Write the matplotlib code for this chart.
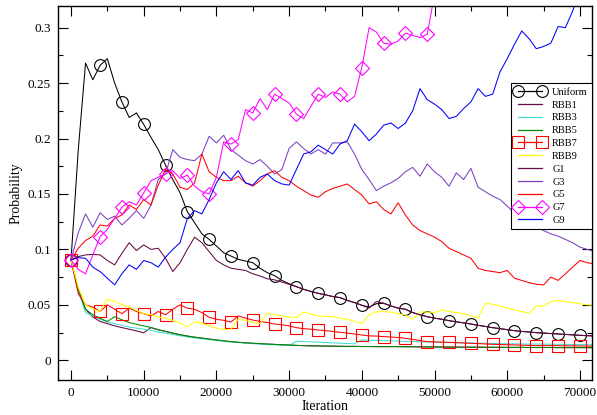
import numpy as np
import matplotlib
matplotlib.use('Agg')
import matplotlib.pyplot as plt
from matplotlib.lines import Line2D
from matplotlib.ticker import MultipleLocator, FuncFormatter

plt.rcParams['font.family'] = 'Liberation Serif'

iterations = np.arange(0, 73000, 1000)

uniform = [0.0905, 0.19, 0.268, 0.253, 0.266, 0.272, 0.250, 0.233, 0.219, 0.223,
           0.2127, 0.201, 0.190, 0.176, 0.163, 0.151, 0.134, 0.124, 0.114, 0.109,
           0.103, 0.097, 0.094, 0.091, 0.0895, 0.088, 0.083, 0.079, 0.0763, 0.072,
           0.069, 0.0664, 0.064, 0.062, 0.0604, 0.059, 0.0575, 0.0565, 0.054, 0.052,
           0.0496, 0.048, 0.051, 0.0514, 0.049, 0.047, 0.046, 0.043, 0.041, 0.0393,
           0.038, 0.037, 0.0357, 0.0347, 0.0337, 0.0327, 0.0315, 0.0305, 0.0294, 0.0285,
           0.0276, 0.0267, 0.026, 0.0255, 0.0249, 0.0245, 0.0241, 0.0237, 0.0233, 0.0229,
           0.0225, 0.0222, 0.0219]

rbb1 = [0.0905, 0.063, 0.046, 0.039, 0.035, 0.033, 0.031, 0.0295, 0.028, 0.0265,
        0.0248, 0.0295, 0.0275, 0.026, 0.0245, 0.023, 0.0218, 0.0208, 0.020, 0.0191,
        0.0183, 0.0175, 0.0168, 0.0162, 0.0157, 0.0153, 0.015, 0.0146, 0.0143, 0.014,
        0.0137, 0.0134, 0.0132, 0.013, 0.0129, 0.0128, 0.0127, 0.0126, 0.0125, 0.0125,
        0.0124, 0.0124, 0.0123, 0.0123, 0.0123, 0.0123, 0.0122, 0.0122, 0.0121, 0.0121,
        0.012, 0.012, 0.0119, 0.0119, 0.0118, 0.0118, 0.0118, 0.0117, 0.0117, 0.0117,
        0.0116, 0.0116, 0.0116, 0.0115, 0.0115, 0.0115, 0.0115, 0.0114, 0.0114, 0.0114,
        0.0114, 0.0114, 0.0113]

rbb3 = [0.0905, 0.062, 0.043, 0.040, 0.037, 0.0345, 0.033, 0.0315, 0.030, 0.029,
        0.028, 0.027, 0.0255, 0.0243, 0.0232, 0.0221, 0.021, 0.0201, 0.0193, 0.0186,
        0.0178, 0.0171, 0.0165, 0.016, 0.0155, 0.015, 0.0146, 0.0142, 0.0139, 0.0136,
        0.0133, 0.0172, 0.0169, 0.0166, 0.0163, 0.016, 0.0157, 0.0154, 0.0151, 0.0148,
        0.0183, 0.0181, 0.0179, 0.0177, 0.0175, 0.0173, 0.0171, 0.0169, 0.0167, 0.0165,
        0.0163, 0.0161, 0.016, 0.0158, 0.0157, 0.0155, 0.0154, 0.0153, 0.0152, 0.015,
        0.0149, 0.0148, 0.0147, 0.0146, 0.0146, 0.0145, 0.0144, 0.0144, 0.0143, 0.0142,
        0.0142, 0.0141, 0.014]

rbb5 = [0.0905, 0.064, 0.046, 0.041, 0.0378, 0.035, 0.0393, 0.0365, 0.034, 0.0325,
        0.031, 0.0295, 0.0275, 0.026, 0.0245, 0.023, 0.0218, 0.0208, 0.020, 0.0191,
        0.0183, 0.0175, 0.0168, 0.0162, 0.0157, 0.0153, 0.015, 0.0146, 0.0143, 0.014,
        0.0137, 0.0134, 0.0132, 0.013, 0.0129, 0.0128, 0.0127, 0.0126, 0.0125, 0.0125,
        0.0124, 0.0124, 0.0123, 0.0123, 0.0123, 0.0123, 0.0122, 0.0122, 0.0121, 0.0121,
        0.012, 0.012, 0.0119, 0.0119, 0.0118, 0.0118, 0.0118, 0.0117, 0.0117, 0.0117,
        0.0116, 0.0116, 0.0116, 0.0115, 0.0115, 0.0115, 0.0115, 0.0114, 0.0114, 0.0114,
        0.0114, 0.0114, 0.0113]

rbb7 = [0.0905, 0.060, 0.050, 0.048, 0.044, 0.050, 0.046, 0.042, 0.047, 0.044,
        0.042, 0.040, 0.044, 0.041, 0.046, 0.050, 0.047, 0.046, 0.043, 0.0387,
        0.037, 0.036, 0.0345, 0.040, 0.038, 0.0363, 0.035, 0.034, 0.0327, 0.032,
        0.031, 0.0294, 0.0285, 0.028, 0.0273, 0.0267, 0.026, 0.0252, 0.0245, 0.0237,
        0.0228, 0.022, 0.0218, 0.0213, 0.021, 0.0205, 0.0198, 0.0188, 0.0178, 0.0168,
        0.0166, 0.0164, 0.0162, 0.0159, 0.0156, 0.0153, 0.015, 0.0147, 0.0144, 0.0142,
        0.014, 0.0138, 0.0136, 0.0134, 0.0132, 0.0132, 0.0132, 0.0132, 0.013, 0.013,
        0.0129, 0.0128, 0.0127]

rbb9 = [0.0905, 0.066, 0.050, 0.046, 0.044, 0.055, 0.053, 0.050, 0.048, 0.045,
        0.042, 0.041, 0.039, 0.038, 0.036, 0.034, 0.030, 0.0345, 0.0335, 0.031,
        0.029, 0.0275, 0.028, 0.037, 0.036, 0.034, 0.033, 0.0425, 0.041, 0.040,
        0.039, 0.0385, 0.0438, 0.0415, 0.040, 0.0395, 0.0393, 0.038, 0.037, 0.035,
        0.0333, 0.041, 0.0438, 0.0438, 0.0435, 0.042, 0.0408, 0.037, 0.0435, 0.0435,
        0.043, 0.0454, 0.044, 0.043, 0.042, 0.040, 0.038, 0.0514, 0.0505, 0.049,
        0.047, 0.0455, 0.044, 0.0424, 0.049, 0.049, 0.053, 0.054, 0.053, 0.052,
        0.051, 0.050, 0.0495]

g1 = [0.0905, 0.0935, 0.095, 0.0955, 0.095, 0.090, 0.086, 0.0965, 0.106, 0.099,
      0.104, 0.100, 0.101, 0.092, 0.080, 0.088, 0.100, 0.111, 0.106, 0.098,
      0.090, 0.086, 0.083, 0.082, 0.081, 0.078, 0.076, 0.0735, 0.0725, 0.0705,
      0.0685, 0.0664, 0.064, 0.062, 0.0604, 0.059, 0.0575, 0.0565, 0.054, 0.052,
      0.0496, 0.047, 0.053, 0.0514, 0.049, 0.047, 0.046, 0.043, 0.041, 0.0393,
      0.038, 0.037, 0.0357, 0.0347, 0.0337, 0.0327, 0.0315, 0.0305, 0.0294, 0.0285,
      0.0276, 0.0267, 0.026, 0.0255, 0.0249, 0.0245, 0.0241, 0.0237, 0.0233, 0.0229,
      0.0225, 0.0222, 0.0219]

g3 = [0.0905, 0.115, 0.132, 0.120, 0.133, 0.127, 0.130, 0.122, 0.128, 0.135,
      0.128, 0.140, 0.163, 0.168, 0.190, 0.183, 0.181, 0.180, 0.186, 0.202,
      0.196, 0.203, 0.190, 0.185, 0.180, 0.177, 0.181, 0.175, 0.168, 0.172,
      0.191, 0.197, 0.191, 0.186, 0.190, 0.186, 0.196, 0.196, 0.197, 0.186,
      0.172, 0.163, 0.153, 0.157, 0.160, 0.164, 0.170, 0.174, 0.166, 0.177,
      0.170, 0.165, 0.157, 0.169, 0.163, 0.173, 0.156, 0.152, 0.148, 0.145,
      0.139, 0.133, 0.128, 0.124, 0.120, 0.117, 0.114, 0.112, 0.109, 0.106,
      0.102, 0.100, 0.098]

g5 = [0.0905, 0.101, 0.108, 0.112, 0.122, 0.121, 0.128, 0.131, 0.140, 0.136,
      0.145, 0.140, 0.158, 0.172, 0.168, 0.156, 0.154, 0.160, 0.186, 0.170,
      0.165, 0.162, 0.162, 0.166, 0.160, 0.157, 0.162, 0.168, 0.171, 0.165,
      0.162, 0.157, 0.153, 0.149, 0.147, 0.152, 0.155, 0.157, 0.159, 0.154,
      0.149, 0.141, 0.143, 0.136, 0.132, 0.142, 0.131, 0.122, 0.117, 0.114,
      0.111, 0.107, 0.101, 0.098, 0.095, 0.092, 0.083, 0.081, 0.080, 0.079,
      0.081, 0.074, 0.072, 0.070, 0.0685, 0.068, 0.075, 0.072, 0.078, 0.084,
      0.090, 0.088, 0.087]

g7 = [0.0905, 0.082, 0.078, 0.095, 0.1115, 0.118, 0.128, 0.138, 0.143, 0.140,
      0.151, 0.162, 0.165, 0.168, 0.171, 0.164, 0.167, 0.157, 0.152, 0.150,
      0.165, 0.197, 0.195, 0.199, 0.226, 0.223, 0.236, 0.226, 0.240, 0.236,
      0.232, 0.222, 0.218, 0.229, 0.240, 0.237, 0.242, 0.240, 0.233, 0.238,
      0.264, 0.300, 0.296, 0.286, 0.285, 0.288, 0.295, 0.293, 0.291, 0.294,
      0.330, np.nan, np.nan, np.nan, np.nan, np.nan, np.nan, np.nan, np.nan, np.nan,
      np.nan, np.nan, np.nan, np.nan, np.nan, np.nan, np.nan, np.nan, np.nan, np.nan,
      np.nan, np.nan, np.nan]

g9 = [0.0905, 0.0925, 0.092, 0.084, 0.080, 0.074, 0.068, 0.078, 0.086, 0.082,
      0.090, 0.088, 0.084, 0.093, 0.100, 0.106, 0.128, 0.135, 0.132, 0.145,
      0.160, 0.170, 0.163, 0.171, 0.160, 0.158, 0.165, 0.168, 0.162, 0.159,
      0.158, 0.172, 0.186, 0.188, 0.194, 0.190, 0.186, 0.195, 0.198, 0.213,
      0.206, 0.198, 0.204, 0.212, 0.214, 0.209, 0.214, 0.225, 0.245, 0.235,
      0.231, 0.226, 0.218, 0.220, 0.227, 0.233, 0.245, 0.238, 0.240, 0.260,
      0.272, 0.285, 0.297, 0.290, 0.281, 0.283, 0.286, 0.301, 0.300, 0.315,
      0.335, np.nan, np.nan]

series = [
    ('Uniform', uniform, 'black', 'o'),
    ('RBB1', rbb1, '#670748', None),
    ('RBB3', rbb3, '#40e0d0', None),
    ('RBB5', rbb5, '#008b00', None),
    ('RBB7', rbb7, '#ff0000', 's'),
    ('RBB9', rbb9, '#ffff00', None),
    ('G1', g1, '#670748', None),
    ('G3', g3, '#7b3fc4', None),
    ('G5', g5, '#ff0000', None),
    ('G7', g7, '#ff00ff', 'D'),
    ('G9', g9, '#0000ff', None),
]

marks = [0] + list(range(4, len(iterations), 3))

fig = plt.figure(figsize=(5.97, 4.15), dpi=100)
ax = fig.add_axes([58 / 597, 1 - 380 / 415, (592 - 58) / 597, (380 - 6) / 415])

handles = []
for label, vals, color, mk in series:
    ms = 7 if mk == 'D' else 8.5
    if mk:
        ax.plot(iterations, vals, color=color, lw=0.75, marker=mk, ms=ms,
                mfc='none', mew=0.8, markevery=marks)
    else:
        ax.plot(iterations, vals, color=color, lw=0.75)
    handles.append(Line2D([], [], color=color, lw=0.9, marker=mk, ms=ms,
                          mfc='none', mew=0.8, label=label))

ax.set_xlim(-1790, 71660)
ax.set_ylim(-0.0178, 0.3195)
ax.xaxis.set_major_locator(MultipleLocator(10000))
ax.xaxis.set_minor_locator(MultipleLocator(5000))
ax.yaxis.set_major_locator(MultipleLocator(0.05))
ax.yaxis.set_minor_locator(MultipleLocator(0.025))
ax.xaxis.set_major_formatter(FuncFormatter(lambda v, p: '%d' % v))
ax.yaxis.set_major_formatter(FuncFormatter(lambda v, p: '%g' % round(v, 3)))
ax.tick_params(which='both', direction='in', top=True, right=True,
               labelsize=9.5, width=0.8, pad=5)
ax.tick_params(which='major', length=7)
ax.tick_params(which='minor', length=3.6)
for sp in ax.spines.values():
    sp.set_linewidth(1.0)

ax.set_xlabel('Iteration', fontsize=10, labelpad=1)
ax.set_ylabel('Probability', fontsize=10, labelpad=4)

leg = ax.legend(handles=handles, loc='upper right',
                bbox_to_anchor=(1.0, 1 - (83.3 - 6) / 374), borderaxespad=0,
                fontsize=7.5, fancybox=False, framealpha=1, edgecolor='black',
                numpoints=2, handlelength=2.9, handletextpad=0.7,
                labelspacing=0.34, borderpad=0.4)
leg.get_frame().set_linewidth(0.8)

plt.savefig('out.png', dpi=100)
